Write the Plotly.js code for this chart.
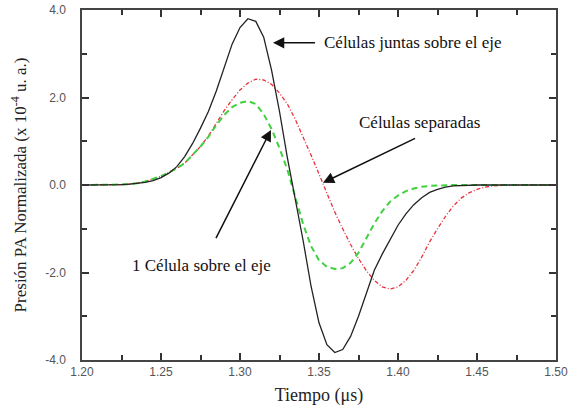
<!DOCTYPE html>
<html>
<head>
<meta charset="utf-8">
<script src="https://cdn.plot.ly/plotly-3.0.1.min.js"></script>
<style>html,body{margin:0;padding:0;background:#fff;}#chart{width:568px;height:419px;}</style>
</head>
<body>
<div id="chart"></div>
<script>
const tiempo = [1.200,1.205,1.210,1.215,1.220,1.225,1.230,1.235,1.240,1.245,1.250,1.255,1.260,1.265,1.270,1.275,1.280,1.285,1.290,1.295,1.300,1.305,1.310,1.315,1.320,1.325,1.330,1.335,1.340,1.345,1.350,1.355,1.360,1.365,1.370,1.375,1.380,1.385,1.390,1.395,1.400,1.405,1.410,1.415,1.420,1.425,1.430,1.435,1.440,1.445,1.450,1.455,1.460,1.465,1.470,1.475,1.480,1.485,1.490,1.495,1.500];

const juntas = [0,0,0,0,0,0.01,0.02,0.04,0.06,0.10,0.17,0.27,0.42,0.65,0.95,1.30,1.68,2.15,2.70,3.22,3.60,3.80,3.74,3.38,2.62,1.68,0.62,-0.32,-1.28,-2.32,-3.15,-3.65,-3.83,-3.76,-3.46,-3.00,-2.45,-1.95,-1.58,-1.25,-0.92,-0.66,-0.45,-0.29,-0.17,-0.10,-0.05,-0.02,-0.01,0,0,0,0,0,0,0,0,0,0,0,0];

const separadas = [0,0,0,0,0,0.01,0.02,0.04,0.08,0.14,0.20,0.29,0.38,0.50,0.68,0.88,1.12,1.42,1.70,1.95,2.17,2.33,2.42,2.40,2.30,2.10,1.85,1.50,1.10,0.68,0.25,-0.20,-0.62,-1.00,-1.36,-1.68,-1.96,-2.18,-2.33,-2.38,-2.33,-2.18,-1.95,-1.65,-1.30,-1.00,-0.72,-0.48,-0.30,-0.18,-0.10,-0.05,-0.02,-0.01,0,0,0,0,0,0,0];

const unaCelula = [0,0,0,0,0,0.01,0.02,0.04,0.08,0.14,0.20,0.29,0.38,0.50,0.68,0.88,1.10,1.37,1.60,1.78,1.88,1.92,1.85,1.62,1.28,0.84,0.35,-0.25,-0.90,-1.40,-1.72,-1.87,-1.92,-1.90,-1.78,-1.55,-1.22,-0.88,-0.60,-0.38,-0.24,-0.14,-0.08,-0.04,-0.02,-0.01,0,0,0,0,0,0,0,0,0,0,0,0,0,0,0];

const yTickVals = [-4,-2,0,2,4];
const yTickText = ["-4.0","-2.0","0.0","2.0","4.0"];
const xTickVals = [1.20,1.25,1.30,1.35,1.40,1.45,1.50];
const xTickText = ["1.20","1.25","1.30","1.35","1.40","1.45","1.50"];

const traces = [
  {x: tiempo, y: separadas, type:'scatter', mode:'lines', name:'Células separadas',
   line:{color:'#e8323c', width:1.3, dash:'4px,2px,1px,2px'}},
  {x: tiempo, y: unaCelula, type:'scatter', mode:'lines', name:'1 Célula sobre el eje',
   line:{color:'#3fd13f', width:2, dash:'6px,4px'}},
  {x: tiempo, y: juntas, type:'scatter', mode:'lines', name:'Células juntas sobre el eje',
   line:{color:'#222222', width:1.3}}
];

const serif = '"Liberation Serif", serif';
const sans = '"Liberation Sans", sans-serif';
const annFont = {family: serif, size: 17, color:'#111'};
const arrowCol = '#111';

const layout = {
  width:568, height:419,
  margin:{l:82, r:12, t:10, b:59},
  paper_bgcolor:'#fff', plot_bgcolor:'#fff',
  showlegend:false,
  xaxis:{
    range:[1.2,1.5], tickmode:'array', tickvals:xTickVals, ticktext:xTickText,
    ticks:'inside', ticklen:7, tickwidth:1.5, tickcolor:'#333',
    minor:{ticks:'inside', ticklen:5, dtick:0.025, tickcolor:'#333', tickwidth:1.5},
    showline:true, linecolor:'#444', linewidth:1.5, mirror:'ticks',
    showgrid:false, zeroline:false,
    tickfont:{family:sans, size:12, color:'#555'},
    ticklabeloverflow:'allow',
    title:{text:'Tiempo (μs)', font:{family:serif, size:18, color:'#222'}, standoff:10}
  },
  yaxis:{
    range:[-4,4], tickmode:'array', tickvals:yTickVals, ticktext:yTickText,
    ticks:'inside', ticklen:7, tickwidth:1.5, tickcolor:'#333',
    minor:{ticks:'inside', ticklen:5, dtick:1, tickcolor:'#333', tickwidth:1.5},
    showline:true, linecolor:'#444', linewidth:1.5, mirror:'ticks',
    showgrid:false, zeroline:false,
    tickfont:{family:sans, size:12, color:'#555'},
    ticklabelstandoff:12,
    title:{text:'Presión PA Normalizada (x 10<sup>-4</sup> u. a.)', font:{family:serif, size:17, color:'#222'}, standoff:14}
  },
  annotations:[
    {x:1.3519, y:3.25, xref:'x', yref:'y', text:'Células juntas sobre el eje', showarrow:false, xanchor:'left', yanchor:'middle', font:annFont},
    {x:1.3209, y:3.25, ax:1.3494, ay:3.25, xref:'x', yref:'y', axref:'x', ayref:'y', text:' ', showarrow:true, arrowhead:2, arrowsize:1.5, arrowwidth:1.5, arrowcolor:arrowCol},
    {x:1.3740, y:1.42, xref:'x', yref:'y', text:'Células separadas', showarrow:false, xanchor:'left', yanchor:'middle', font:annFont},
    {x:1.3525, y:0.05, ax:1.4127, ay:1.10, xref:'x', yref:'y', axref:'x', ayref:'y', text:' ', showarrow:true, arrowhead:2, arrowsize:1.5, arrowwidth:1.5, arrowcolor:arrowCol},
    {x:1.2304, y:-1.85, xref:'x', yref:'y', text:'1 Célula sobre el eje', showarrow:false, xanchor:'left', yanchor:'middle', font:annFont},
    {x:1.3196, y:1.26, ax:1.2829, ay:-1.35, xref:'x', yref:'y', axref:'x', ayref:'y', text:' ', showarrow:true, arrowhead:2, arrowsize:1.5, arrowwidth:1.5, arrowcolor:arrowCol}
  ]
};

Plotly.newPlot('chart', traces, layout, {displayModeBar:false});
</script>
</body>
</html>
